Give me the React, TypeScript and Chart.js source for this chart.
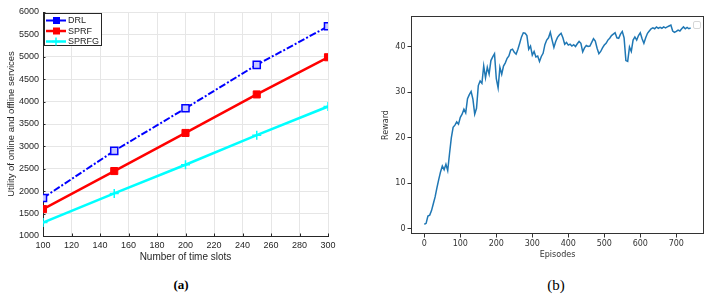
import React, { useEffect, useRef } from 'react';
import { Chart, registerables } from 'chart.js';

Chart.register(...registerables);

// ---- Panel (a) data ----
const timeSlots = [100, 150, 200, 250, 300];
const drlUtility = [1850, 2900, 3850, 4820, 5680];
const sprfUtility = [1600, 2450, 3300, 4160, 4990];
const sprfgUtility = [1300, 1950, 2590, 3250, 3890];
const slotTicks = [100, 120, 140, 160, 180, 200, 220, 240, 260, 280, 300];
const utilityTicks = [1000, 1500, 2000, 2500, 3000, 3500, 4000, 4500, 5000, 5500, 6000];
const seriesNames = ['DRL', 'SPRF', 'SPRFG'];

// ---- Panel (b) data (reward sampled every 5 episodes) ----
const episodeStep = 5;
const reward = [
  1.0, 1.2, 2.8, 3.0, 4.0, 5.5, 7.0, 9.0, 10.8, 12.5,
  13.8, 13.0, 14.2, 12.8, 16.5, 20.0, 22.3, 22.8, 23.5, 23.0,
  24.5, 25.2, 26.3, 25.5, 28.6, 29.5, 30.2, 28.5, 25.2, 26.5,
  31.5, 32.5, 32.0, 35.8, 33.2, 35.5, 34.0, 37.0, 37.8, 38.5,
  33.0, 31.0, 35.5, 34.0, 35.8, 36.5, 37.5, 38.0, 39.3, 39.5,
  38.8, 38.4, 39.5, 40.8, 42.2, 43.1, 43.0, 42.5, 39.5, 40.2,
  38.2, 39.0, 37.8, 38.0, 36.8, 37.9, 38.6, 40.5, 41.5, 42.0,
  43.2, 41.5, 39.9, 41.2, 42.1, 42.6, 43.0, 42.0, 40.6, 41.0,
  40.4, 40.6, 40.2, 40.5, 40.1, 40.7, 41.2, 40.8, 38.9, 39.8,
  40.3, 40.1, 40.2, 41.0, 41.8, 41.3, 39.7, 38.5, 39.0, 39.8,
  40.4, 40.8, 41.5, 41.9, 42.5, 42.8, 43.1, 42.0, 41.9, 42.8,
  43.4, 42.0, 37.0, 36.8, 40.0, 39.0, 41.5, 42.2, 41.5, 42.5,
  43.1, 41.8, 40.8, 42.0, 43.0, 43.5, 44.0, 44.2, 44.0, 44.4,
  44.1, 44.3, 44.1, 44.4, 44.2, 44.4, 44.6, 44.8, 43.5, 43.2,
  43.4, 43.7, 43.5, 44.0, 44.4, 44.0, 44.3, 44.0, 44.2,
];
const episodeTicks = [0, 100, 200, 300, 400, 500, 600, 700];
const rewardTicks = [0, 10, 20, 30, 40];

const SANS_A = '"Liberation Sans", Arial, sans-serif';
const SANS_B = '"DejaVu Sans", sans-serif';

const legendBoxPlugin = {
  id: 'legendBoxA',
  afterDraw(chart: any) {
    const { ctx, chartArea, scales } = chart;
    ctx.save();
    // inward tick marks (MATLAB style)
    ctx.strokeStyle = '#262626';
    ctx.lineWidth = 1;
    ctx.beginPath();
    slotTicks.forEach((v) => {
      const x = Math.round(scales.x.getPixelForValue(v)) + 0.5;
      ctx.moveTo(x, chartArea.bottom);
      ctx.lineTo(x, chartArea.bottom - 2.5);
    });
    utilityTicks.forEach((v) => {
      const y = Math.round(scales.y.getPixelForValue(v)) + 0.5;
      ctx.moveTo(chartArea.left, y);
      ctx.lineTo(chartArea.left + 2.5, y);
    });
    ctx.stroke();

    const x0 = chartArea.left + 1;
    const y0 = chartArea.top + 1;
    ctx.fillStyle = '#ffffff';
    ctx.strokeStyle = '#262626';
    ctx.lineWidth = 1;
    ctx.fillRect(x0, y0, 57, 32);
    ctx.strokeRect(x0 + 0.5, y0 + 0.5, 57, 32);
    chart.data.datasets.forEach((d: any, i: number) => {
      const y = y0 + 7.5 + i * 10.5;
      ctx.strokeStyle = d.borderColor;
      ctx.lineWidth = d.borderWidth;
      ctx.setLineDash(d.borderDash || []);
      ctx.beginPath();
      ctx.moveTo(x0 + 2, y);
      ctx.lineTo(x0 + 22, y);
      ctx.stroke();
      ctx.setLineDash([]);
      ctx.lineWidth = 1.5;
      if (d.pointStyle === 'rect') {
        ctx.fillStyle = d.borderColor;
        ctx.fillRect(x0 + 9, y - 3.5, 7, 7);
      } else {
        ctx.beginPath();
        ctx.moveTo(x0 + 8, y);
        ctx.lineTo(x0 + 16, y);
        ctx.moveTo(x0 + 12, y - 4);
        ctx.lineTo(x0 + 12, y + 4);
        ctx.stroke();
      }
      ctx.fillStyle = '#262626';
      ctx.font = '9px ' + SANS_A;
      ctx.textBaseline = 'middle';
      ctx.textAlign = 'left';
      ctx.fillText(seriesNames[i], x0 + 24, y + 0.5);
    });
    ctx.restore();
  },
};

const frameBPlugin = {
  id: 'frameB',
  afterDraw(chart: any) {
    const { ctx, chartArea } = chart;
    ctx.save();
    ctx.strokeStyle = '#333333';
    ctx.lineWidth = 1;
    ctx.strokeRect(
      Math.round(chartArea.left) + 0.5,
      Math.round(chartArea.top) + 0.5,
      Math.round(chartArea.right - chartArea.left) - 1,
      Math.round(chartArea.bottom - chartArea.top) - 1
    );
    // empty legend frame (top right)
    const lx = chartArea.right - 10.5;
    const ly = chartArea.top + 5.5;
    ctx.strokeStyle = '#d6d6d6';
    ctx.fillStyle = '#ffffff';
    ctx.beginPath();
    ctx.moveTo(lx + 1.5, ly);
    ctx.lineTo(lx + 5.5, ly);
    ctx.quadraticCurveTo(lx + 7, ly, lx + 7, ly + 1.5);
    ctx.lineTo(lx + 7, ly + 5.5);
    ctx.quadraticCurveTo(lx + 7, ly + 7, lx + 5.5, ly + 7);
    ctx.lineTo(lx + 1.5, ly + 7);
    ctx.quadraticCurveTo(lx, ly + 7, lx, ly + 5.5);
    ctx.lineTo(lx, ly + 1.5);
    ctx.quadraticCurveTo(lx, ly, lx + 1.5, ly);
    ctx.fill();
    ctx.stroke();
    ctx.restore();
  },
};

function ChartA() {
  const ref = useRef<HTMLCanvasElement>(null);
  useEffect(() => {
    const mk = (ys: number[]) => timeSlots.map((x, i) => ({ x, y: ys[i] }));
    const chart = new Chart(ref.current as HTMLCanvasElement, {
      type: 'line',
      data: {
        datasets: [
          {
            label: 'DRL',
            data: mk(drlUtility),
            borderColor: '#0000ff',
            backgroundColor: '#c8c8ff',
            borderWidth: 2,
            borderDash: [7, 2, 2, 2],
            pointStyle: 'rect',
            pointRadius: 5,
            pointBorderWidth: 1.5,
          },
          {
            label: 'SPRF',
            data: mk(sprfUtility),
            borderColor: '#ff0000',
            backgroundColor: '#ff0000',
            borderWidth: 2.5,
            pointStyle: 'rect',
            pointRadius: 5,
            pointBorderWidth: 1,
          },
          {
            label: 'SPRFG',
            data: mk(sprfgUtility),
            borderColor: '#00ffff',
            backgroundColor: '#00ffff',
            borderWidth: 2.5,
            pointStyle: 'cross',
            pointRadius: 4.5,
            pointBorderWidth: 1.5,
          },
        ],
      },
      options: {
        animation: false,
        responsive: false,
        layout: { padding: { left: 0, right: 12, top: 12, bottom: 0 } },
        plugins: { legend: { display: false }, tooltip: { enabled: false } },
        scales: {
          x: {
            type: 'linear',
            min: 100,
            max: 300,
            afterBuildTicks: (s: any) => {
              s.ticks = slotTicks.map((v) => ({ value: v }));
            },
            afterFit: (s: any) => {
              s.height = 32;
            },
            grid: { color: '#e6e6e6', drawTicks: false, lineWidth: 1 },
            border: { color: '#262626', width: 1 },
            ticks: {
              padding: 4,
              color: '#262626',
              font: { family: SANS_A, size: 9 },
              maxRotation: 0,
              autoSkip: false,
              callback: (v: any) => String(v),
            },
            title: {
              display: true,
              text: 'Number of time slots',
              color: '#262626',
              font: { family: SANS_A, size: 10 },
              padding: { top: 0, bottom: 4.5 },
            },
          },
          y: {
            type: 'linear',
            min: 1000,
            max: 6000,
            afterBuildTicks: (s: any) => {
              s.ticks = utilityTicks.map((v) => ({ value: v }));
            },
            afterFit: (s: any) => {
              s.width = 43;
            },
            grid: { color: '#e6e6e6', drawTicks: false, lineWidth: 1 },
            border: { color: '#262626', width: 1 },
            ticks: {
              padding: 4,
              color: '#262626',
              font: { family: SANS_A, size: 9 },
              autoSkip: false,
              callback: (v: any) => String(v),
            },
            title: {
              display: true,
              text: 'Utility of online and offline services',
              color: '#262626',
              font: { family: SANS_A, size: 9.5 },
              padding: { top: 6, bottom: 0 },
            },
          },
        },
      },
      plugins: [legendBoxPlugin],
    } as any);
    return () => chart.destroy();
  }, []);
  return (
    <canvas
      ref={ref}
      width={340}
      height={268}
      style={{ position: 'absolute', left: 0, top: 0, width: 340, height: 268 }}
    />
  );
}

function ChartB() {
  const ref = useRef<HTMLCanvasElement>(null);
  useEffect(() => {
    const pts = reward.map((y, i) => ({ x: i * episodeStep, y }));
    const chart = new Chart(ref.current as HTMLCanvasElement, {
      type: 'line',
      data: {
        datasets: [
          {
            label: '',
            data: pts,
            borderColor: '#1f77b4',
            borderWidth: 1.5,
            pointRadius: 0,
            tension: 0,
          },
        ],
      },
      options: {
        animation: false,
        responsive: false,
        layout: { padding: { left: 0, right: 8, top: 16, bottom: 0 } },
        plugins: { legend: { display: false }, tooltip: { enabled: false } },
        scales: {
          x: {
            type: 'linear',
            min: -37,
            max: 777,
            afterBuildTicks: (s: any) => {
              s.ticks = episodeTicks.map((v) => ({ value: v }));
            },
            afterFit: (s: any) => {
              s.height = 34;
            },
            grid: { drawOnChartArea: false, drawTicks: true, tickLength: 3.5, color: '#333333' },
            border: { display: false },
            ticks: {
              padding: 2,
              color: '#333333',
              font: { family: SANS_B, size: 8 },
              maxRotation: 0,
              autoSkip: false,
              callback: (v: any) => String(v),
            },
            title: {
              display: true,
              text: 'Episodes',
              color: '#333333',
              font: { family: SANS_B, size: 8 },
              padding: { top: 0, bottom: 8 },
            },
          },
          y: {
            type: 'linear',
            min: -1.15,
            max: 46.8,
            afterBuildTicks: (s: any) => {
              s.ticks = rewardTicks.map((v) => ({ value: v }));
            },
            afterFit: (s: any) => {
              s.width = 51;
            },
            grid: { drawOnChartArea: false, drawTicks: true, tickLength: 3.5, color: '#333333' },
            border: { display: false },
            ticks: {
              padding: 2,
              color: '#333333',
              font: { family: SANS_B, size: 8 },
              autoSkip: false,
              callback: (v: any) => String(v),
            },
            title: {
              display: true,
              text: 'Reward',
              color: '#333333',
              font: { family: SANS_B, size: 8 },
              padding: { top: 21, bottom: 0 },
            },
          },
        },
      },
      plugins: [frameBPlugin],
    } as any);
    return () => chart.destroy();
  }, []);
  return (
    <canvas
      ref={ref}
      width={352}
      height={268}
      style={{ position: 'absolute', left: 360, top: 0, width: 352, height: 268 }}
    />
  );
}

const captionStyle: React.CSSProperties = {
  position: 'absolute',
  width: 60,
  textAlign: 'center',
  fontFamily: '"Liberation Serif", "DejaVu Serif", serif',
  lineHeight: '16px',
  color: '#000',
};

export default function App() {
  return (
    <div
      style={{
        position: 'absolute',
        left: 0,
        top: 0,
        width: 712,
        height: 299,
        background: '#ffffff',
        overflow: 'hidden',
      }}
    >
      <ChartA />
      <ChartB />
      <div style={{ ...captionStyle, left: 151, top: 277, fontSize: 13, fontWeight: 'bold' }}>(a)</div>
      <div style={{ ...captionStyle, left: 526, top: 277, fontSize: 15, fontWeight: 'normal' }}>(b)</div>
    </div>
  );
}
